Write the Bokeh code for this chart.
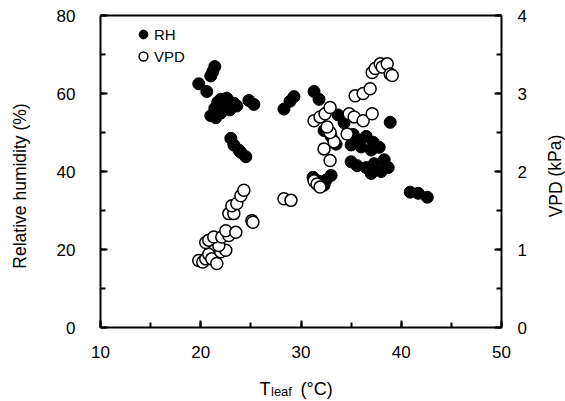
from bokeh.plotting import figure
from bokeh.models import (Range1d, LinearAxis, SingleIntervalTicker, Legend, LegendItem, Label)
from bokeh.embed import file_html
from bokeh.resources import INLINE

# ---- data ----
rh_temp = [19.8, 20.6, 21.0, 21.4, 21.2, 21.0, 21.5, 21.4, 22.0, 22.0, 22.6, 21.7, 22.5, 23.3, 23.6, 22.9,
           24.8, 25.3, 23.0, 23.3, 23.8, 24.0, 24.5, 28.3, 28.9, 29.3, 31.3, 31.8, 31.2, 31.8, 32.5, 33.0,
           32.3, 32.3, 33.0, 33.5, 33.7, 34.3, 35.2, 35.8, 36.5, 37.2, 37.8, 36.0, 35.0, 37.0, 35.0, 35.6,
           36.5, 37.3, 38.0, 38.7, 37.0, 38.3, 38.9, 40.9, 41.7, 42.6]
rh_vals = [62.5, 60.5, 64.5, 66.9, 65.6, 54.3, 53.8, 56.2, 55.0, 58.5, 58.8, 57.8, 56.5, 57.5, 56.8, 55.8,
           58.2, 57.2, 48.5, 46.8, 45.5, 44.9, 43.8, 56.0, 58.0, 59.2, 60.5, 58.5, 38.5, 37.5, 37.8, 39.0,
           36.5, 50.5, 49.0, 47.0, 54.5, 52.5, 49.5, 48.0, 49.0, 47.5, 46.2, 46.3, 46.8, 45.5, 42.5, 41.5,
           41.0, 42.0, 40.0, 41.0, 39.5, 43.0, 52.6, 34.7, 34.4, 33.4]

vpd_temp = [19.8, 20.2, 20.5, 20.8, 21.1, 21.6, 22.0, 22.5, 21.8, 20.5, 20.8, 21.3, 22.1, 22.8, 22.5, 23.5,
            25.1, 25.2, 22.8, 23.3, 23.1, 23.6, 24.0, 24.3, 28.3, 29.0,
            31.3, 31.6, 31.9, 32.9, 32.3, 33.3, 32.9, 32.6, 31.3, 31.9, 32.4, 32.9, 34.6, 34.8, 35.3, 36.2,
            37.1, 35.4, 36.2, 36.9, 37.1, 37.4, 37.9, 38.1, 38.6, 38.9, 39.1]
vpd_vals = [0.86, 0.84, 0.88, 0.94, 0.88, 0.82, 0.97, 0.99, 1.05, 1.09, 1.12, 1.16, 1.16, 1.18, 1.24, 1.22,
            1.37, 1.35, 1.46, 1.46, 1.56, 1.59, 1.69, 1.76, 1.65, 1.63,
            1.88, 1.84, 1.80, 2.14, 2.29, 2.38, 2.50, 2.57, 2.65, 2.70, 2.74, 2.82, 2.48, 2.74, 2.70, 2.65,
            2.74, 2.97, 3.00, 3.06, 3.27, 3.32, 3.38, 3.34, 3.38, 3.25, 3.23]

x_lim = (10, 50)
rh_lim = (0, 80)
vpd_lim = (0, 4)

FONT = "Liberation Sans"

# ---- layout (pixels) ----
W, H = 565, 401
BOX_L, BOX_R, BOX_T, BOX_B = 100, 501, 15, 327   # axis box in page pixels

xs = (x_lim[1] - x_lim[0]) / (BOX_R - BOX_L)
ys = (rh_lim[1] - rh_lim[0]) / (BOX_B - BOX_T)
vs = (vpd_lim[1] - vpd_lim[0]) / (BOX_B - BOX_T)
x_range = Range1d(x_lim[0] - BOX_L * xs, x_lim[1] + (W - BOX_R) * xs)
y_range = Range1d(rh_lim[0] - (H - BOX_B) * ys, rh_lim[1] + BOX_T * ys)
v_range = Range1d(vpd_lim[0] - (H - BOX_B) * vs, vpd_lim[1] + BOX_T * vs)

p = figure(width=W, height=H, x_range=x_range, y_range=y_range,
           output_backend="svg", toolbar_location=None, tools="",
           x_axis_location=None, y_axis_location=None, min_border=0)
p.background_fill_color = "white"
p.border_fill_color = "white"
p.grid.visible = False
p.outline_line_color = None
p.extra_y_ranges = {"vpd": v_range}


def style(ax, standoff):
    ax.axis_line_color = "black"
    ax.axis_line_width = 2
    ax.major_tick_line_color = "black"
    ax.major_tick_line_width = 2
    ax.minor_tick_line_color = "black"
    ax.minor_tick_line_width = 2
    ax.major_tick_in = 7
    ax.major_tick_out = 0
    ax.minor_tick_in = 5
    ax.minor_tick_out = 0
    ax.major_label_text_font = FONT
    ax.major_label_text_font_size = "17px"
    ax.major_label_text_color = "black"
    ax.major_label_standoff = standoff


xaxis = LinearAxis(ticker=SingleIntervalTicker(interval=10, num_minor_ticks=2),
                   fixed_location=rh_lim[0], bounds=x_lim)
style(xaxis, 18)
p.add_layout(xaxis, "below")

topaxis = LinearAxis(ticker=SingleIntervalTicker(interval=10, num_minor_ticks=2),
                     fixed_location=rh_lim[1], bounds=x_lim)
style(topaxis, 0)
topaxis.major_tick_line_color = None
topaxis.minor_tick_line_color = None
topaxis.major_label_text_font_size = "0px"
topaxis.major_label_text_color = None
p.add_layout(topaxis, "above")

laxis = LinearAxis(ticker=SingleIntervalTicker(interval=20, num_minor_ticks=2),
                   fixed_location=x_lim[0], bounds=rh_lim)
style(laxis, 25)
p.add_layout(laxis, "left")

raxis = LinearAxis(y_range_name="vpd", ticker=SingleIntervalTicker(interval=1, num_minor_ticks=2),
                   fixed_location=x_lim[1], bounds=vpd_lim)
style(raxis, 16)
p.add_layout(raxis, "right")

r_rh = p.scatter(rh_temp, rh_vals, size=12, fill_color="black", line_color="black", line_width=1)
r_vpd = p.scatter(vpd_temp, vpd_vals, y_range_name="vpd", size=12, fill_color="white",
                  line_color="black", line_width=1.5)

legend = Legend(items=[LegendItem(label="RH", renderers=[r_rh]),
                       LegendItem(label="VPD", renderers=[r_vpd])],
                location=(132, 334), orientation="vertical",
                glyph_width=22, glyph_height=22, spacing=0, padding=0, margin=0,
                label_standoff=0, label_height=20,
                label_text_font=FONT, label_text_font_size="15px", label_text_color="black",
                border_line_color=None, background_fill_alpha=0)
p.add_layout(legend, "center")

# axis titles (screen units, measured from bottom-left of the canvas)
def lab(text, x, y, size, angle=0.0, align="left"):
    p.add_layout(Label(x=x, y=y, x_units="screen", y_units="screen", angle=angle,
                       text=text, text_font=FONT, text_font_size=size, text_color="black",
                       text_align=align, text_baseline="alphabetic"))

lab("Relative humidity (%)", 19.5, H - 185.5, "17.5px", 1.5708, "center")
lab("VPD (kPa)", 555, H - 175.5, "17.5px", 1.5708, "center")
lab("T", 259, 13, "18px")
lab("leaf", 270.5, 10, "13px")
lab("(°C)", 300, 13, "18px")

open("out.html", "w").write(file_html(p, INLINE))
